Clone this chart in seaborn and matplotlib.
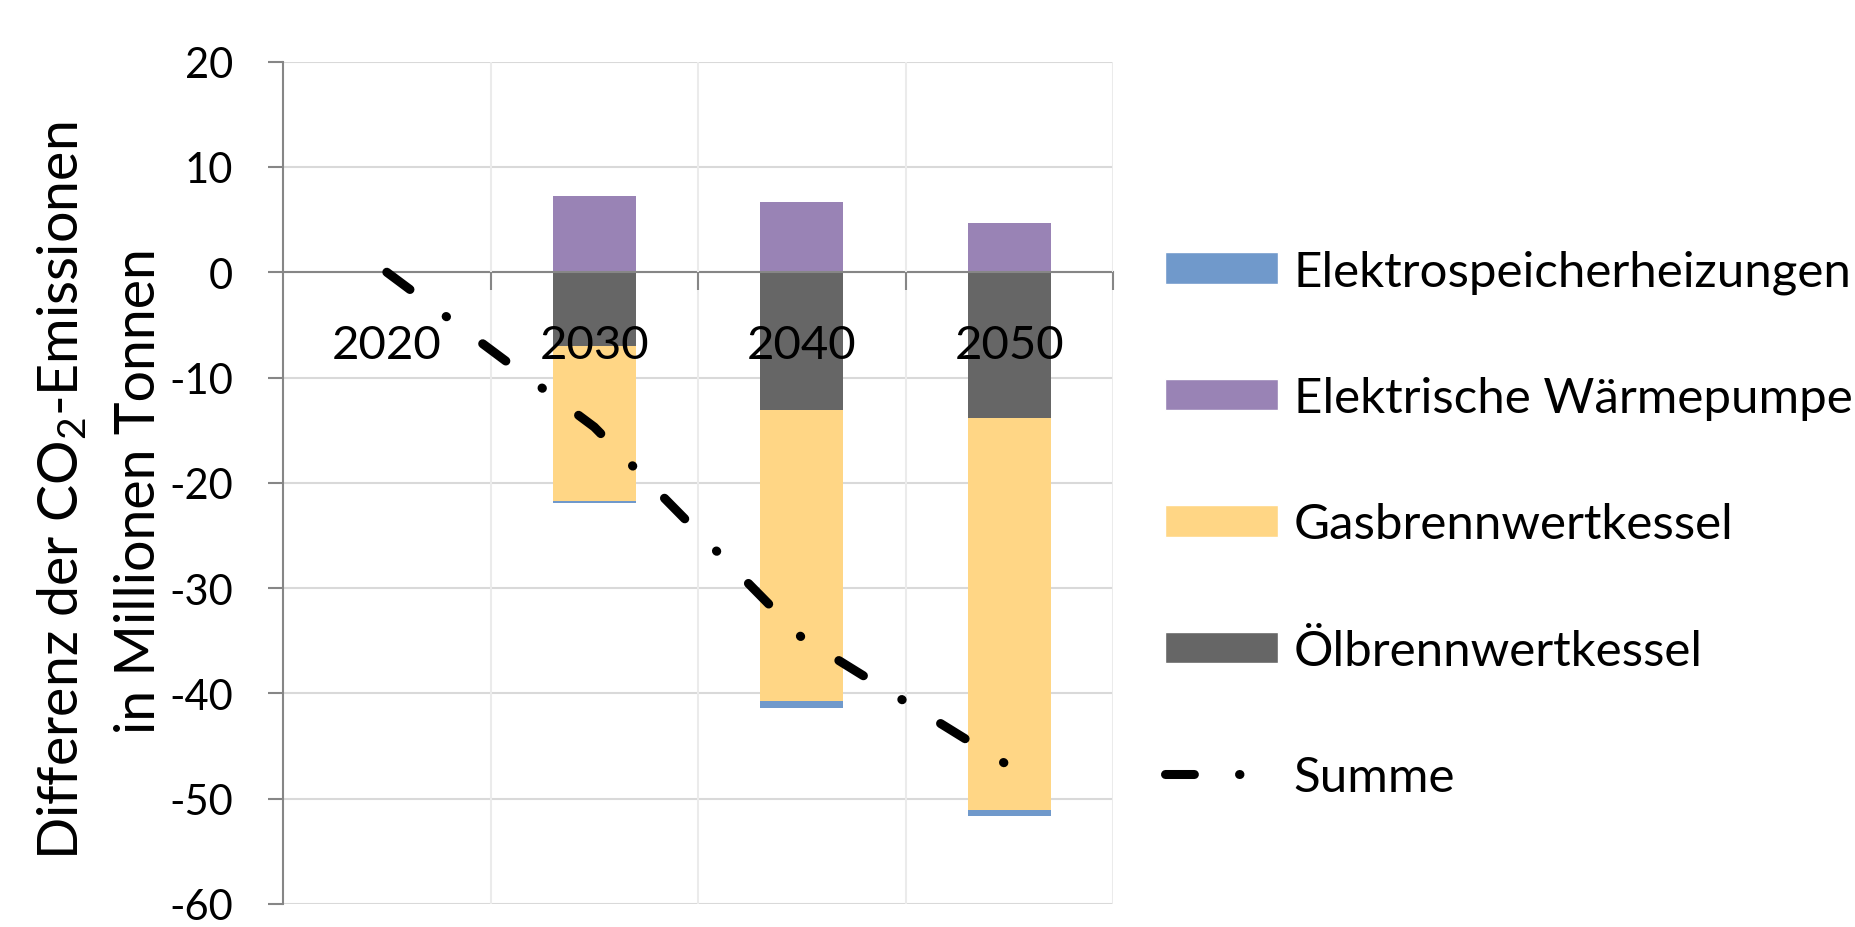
import numpy as np
import seaborn as sns
import matplotlib.pyplot as plt
from matplotlib.patches import Patch
from matplotlib.lines import Line2D

# Werte (Mio. t CO2, Differenz)
jahre = ["2020", "2030", "2040", "2050"]
elektrospeicher = [0.0, -0.2, -0.7, -0.5]
waermepumpe = [0.0, 7.2, 6.7, 4.7]
gaskessel = [0.0, -14.7, -27.6, -37.3]
oelkessel = [0.0, -7.0, -13.1, -13.8]
summe = [0.0, -14.7, -34.7, -46.9]

labels = ["Elektrospeicherheizungen", "Elektrische Wärmepumpe",
          "Gasbrennwertkessel", "Ölbrennwertkessel", "Summe"]
farben = {"elektro": "#7099CB", "wp": "#9983B5", "gas": "#FFD685", "oel": "#666666"}

sns.set_style("white")
plt.rcParams['font.family'] = ['Lato', 'DejaVu Sans']
plt.rcParams['mathtext.fontset'] = 'custom'
plt.rcParams['mathtext.rm'] = 'Lato'
plt.rcParams['mathtext.it'] = 'Lato:italic'
plt.rcParams['axes.unicode_minus'] = False
plt.rcParams['text.color'] = 'black'
plt.rcParams['axes.labelcolor'] = 'black'
plt.rcParams['xtick.labelcolor'] = 'black'
plt.rcParams['ytick.labelcolor'] = 'black'

fig = plt.figure(figsize=(18.55, 9.28), dpi=100)
ax = fig.add_axes([0.1526, 0.0248, 0.4474, 0.9077])

# negative Anteile gestapelt: tiefste Summe zuerst, dann ueberdecken
neg1 = np.array(oelkessel)
neg2 = neg1 + np.array(gaskessel)
neg3 = neg2 + np.array(elektrospeicher)

bw = 0.4
sns.barplot(x=jahre, y=neg3, color=farben["elektro"], saturation=1, width=bw, linewidth=0, ax=ax)
sns.barplot(x=jahre, y=neg2, color=farben["gas"], saturation=1, width=bw, linewidth=0, ax=ax)
sns.barplot(x=jahre, y=neg1, color=farben["oel"], saturation=1, width=bw, linewidth=0, ax=ax)
sns.barplot(x=jahre, y=waermepumpe, color=farben["wp"], saturation=1, width=bw, linewidth=0, ax=ax)

strich = (0, (3.2, 5.0, 0.05, 5.0))
sns.lineplot(x=np.arange(len(jahre)), y=summe, color="black", lw=6.5,
             linestyle=strich, dash_capstyle="round", ax=ax, zorder=5)

ax.set_xlim(-0.5, 3.5)
ax.set_ylim(-60, 20)
ax.set_yticks(np.arange(-60, 21, 10))
ax.set_xticks(range(len(jahre)))
ax.set_xticklabels(jahre)
ax.set_xticks([0.5, 1.5, 2.5, 3.5], minor=True)

achse = "#868686"
for s in ["top", "right"]:
    ax.spines[s].set_visible(False)
ax.spines["bottom"].set_position(("data", 0))
ax.spines["bottom"].set_color(achse)
ax.spines["bottom"].set_linewidth(1.5)
ax.spines["left"].set_color(achse)
ax.spines["left"].set_linewidth(1.5)

ax.tick_params(axis="y", which="major", length=10.8, width=1.5, color=achse,
               direction="out", pad=25, labelsize=30, left=True, labelcolor="black")
ax.tick_params(axis="x", which="major", length=0, pad=37, labelsize=34, labelcolor="black")
ax.tick_params(axis="x", which="minor", length=13, width=1.5, color=achse,
               direction="out", bottom=True)

ax.set_axisbelow(True)
ax.yaxis.grid(True, color="#D9D9D9", lw=1.5)
ax.xaxis.grid(True, which="minor", color="#EBEBEB", lw=1.5)
ax.xaxis.grid(False, which="major")
# Jahreszahlen liegen ueber den Balken
ax.xaxis.set_zorder(4)

ax.set_ylabel("Differenz der CO$_2$-Emissionen\nin Millionen Tonnen", fontsize=40,
              linespacing=1.62, color="black")
ax.yaxis.set_label_coords(-0.142, 0.4915)
ax.set_xlabel("")

handles = [Patch(facecolor=farben["elektro"]), Patch(facecolor=farben["wp"]),
           Patch(facecolor=farben["gas"]), Patch(facecolor=farben["oel"]),
           Line2D([], [], color="black", lw=6.5, linestyle=strich, dash_capstyle="round")]
fig.legend(handles, labels, loc="upper left", bbox_to_anchor=(0.628, 0.7304),
           frameon=False, borderpad=0, borderaxespad=0, fontsize=35.5, labelcolor="black",
           handlelength=2.29, handleheight=0.61, handletextpad=0.32, labelspacing=1.67)

fig.savefig("out.png", dpi=100)
